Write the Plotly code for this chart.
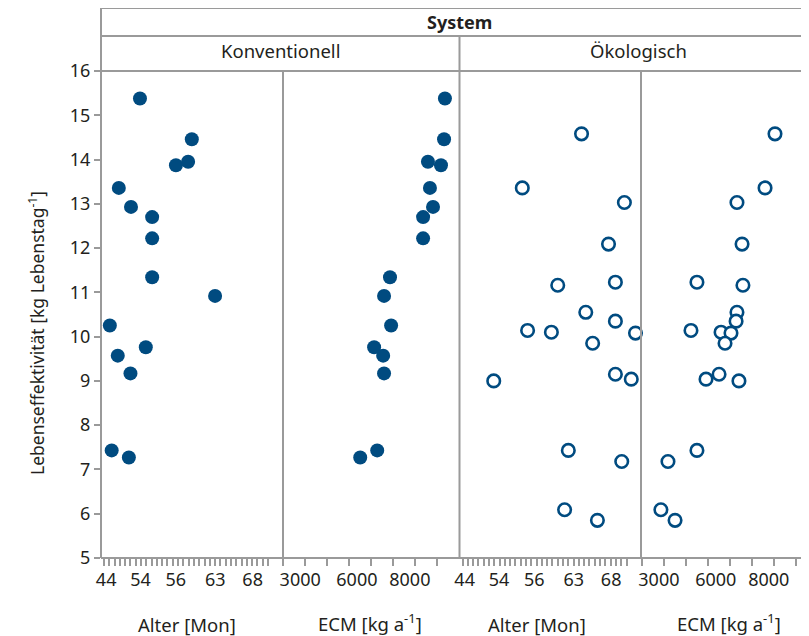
import plotly.graph_objects as go

# ---------------- data (positions) ----------------
# Alter axis is ordinal: positions are category slots (one minor tick per slot)
alter_tick_labels = ["44", "54", "56", "63", "68"]
alter_label_pos = [0.4, 6.9, 13.55, 21.05, 28.1]
alter_slots = list(range(32))

# ECM axis: positions in tick slots
ecm_tick_labels = ["3000", "6000", "8000"]
ecm_label_pos = [0.78, 3.35, 5.75]
ecm_slots = list(range(8))

y_ticks = list(range(5, 17))

# Konventionell
konv_eff = [15.38, 14.46, 13.95, 13.87, 13.36, 12.93, 12.70, 12.22,
            11.34, 10.92, 10.25, 9.76, 9.57, 9.17, 7.43, 7.27]
konv_alter = [6.8, 16.6, 15.9, 13.6, 2.8, 5.1, 9.1, 9.1,
              9.1, 21.0, 1.1, 7.9, 2.6, 5.0, 1.45, 4.7]
konv_ecm = [7.34, 7.30, 6.57, 7.16, 6.66, 6.80, 6.35, 6.35,
            4.85, 4.58, 4.90, 4.13, 4.54, 4.58, 4.27, 3.50]

# Ökologisch
oeko_eff = [14.58, 13.36, 13.03, 12.09, 11.23, 11.16, 10.55, 10.35, 10.14, 10.10,
            10.08, 9.85, 9.15, 9.04, 9.00, 7.43, 7.18, 6.09, 5.85]
oeko_alter = [22.5, 11.3, 30.6, 27.6, 28.9, 18.0, 23.3, 28.9, 12.3, 16.8,
              32.7, 24.6, 28.9, 31.9, 5.9, 20.0, 30.1, 19.3, 25.5]
oeko_ecm = [6.03, 5.58, 4.31, 4.54, 2.50, 4.58, 4.31, 4.27, 2.23, 3.59,
            4.04, 3.77, 3.50, 2.91, 4.40, 2.50, 1.19, 0.87, 1.51]

# ---------------- style ----------------
W, H = 809, 636
OFF = 8  # page offset of the figure inside the window
# plot-area edges in window pixels
WL, WT, WB = 101, 71, 558
WR = W + OFF  # right edge of the figure in window pixels
BLUE = "#004b80"
GREY = "#9a9a9a"
TXT = "#231f20"
FONT = "Noto Sans"
FS = 18
TS = 18.5

L, T, B, R = WL - OFF, WT - OFF, WB - OFF, W


def px(x):  # window x -> paper
    return (x - OFF - L) / (R - L)


def py(y):  # window y -> paper
    return (B - (y - OFF)) / (B - T)


fig = go.Figure()
filled = dict(size=14, color=BLUE, line=dict(width=0))
opened = dict(size=12.5, color="white", line=dict(width=2.6, color=BLUE))

fig.add_trace(go.Scatter(x=konv_alter, y=konv_eff, mode="markers", marker=filled,
                         xaxis="x", yaxis="y", showlegend=False, cliponaxis=False))
fig.add_trace(go.Scatter(x=konv_ecm, y=konv_eff, mode="markers", marker=filled,
                         xaxis="x2", yaxis="y", showlegend=False, cliponaxis=False))
fig.add_trace(go.Scatter(x=oeko_alter, y=oeko_eff, mode="markers", marker=opened,
                         xaxis="x3", yaxis="y", showlegend=False, cliponaxis=False))
fig.add_trace(go.Scatter(x=oeko_ecm, y=oeko_eff, mode="markers", marker=opened,
                         xaxis="x4", yaxis="y", showlegend=False, cliponaxis=False))

edges = [101, 283, 459.5, 641, WR]
doms = [[px(edges[i]), px(edges[i + 1])] for i in range(4)]


def alter_axis(dom, right):
    return dict(domain=dom, range=[-0.57, right], tickmode="array",
                tickvals=alter_label_pos, ticktext=alter_tick_labels, ticks="",
                minor=dict(tickmode="array", tickvals=alter_slots, ticks="outside",
                           ticklen=7, tickwidth=1.5, tickcolor=GREY, showgrid=False),
                showgrid=False, zeroline=False, showline=False, anchor="y",
                ticklabelstandoff=9, automargin=False,
                tickfont=dict(family=FONT, size=FS, color=TXT))


def ecm_axis(dom, left, right):
    return dict(domain=dom, range=[left, right], tickmode="array",
                tickvals=ecm_label_pos, ticktext=ecm_tick_labels, ticks="",
                minor=dict(tickmode="array", tickvals=ecm_slots, ticks="outside",
                           ticklen=7, tickwidth=1.5, tickcolor=GREY, showgrid=False),
                showgrid=False, zeroline=False, showline=False, anchor="y",
                ticklabelstandoff=9, automargin=False,
                tickfont=dict(family=FONT, size=FS, color=TXT))


line = dict(color=GREY, width=2)
shapes = []
for yy in [8, 36, 71, 558]:
    shapes.append(dict(type="line", xref="paper", yref="paper", x0=px(101), x1=px(WR),
                       y0=py(yy), y1=py(yy), line=line))
shapes.append(dict(type="line", xref="paper", yref="paper", x0=px(101), x1=px(101),
                   y0=py(8), y1=py(558), line=line))
shapes.append(dict(type="line", xref="paper", yref="paper", x0=px(459.5), x1=px(459.5),
                   y0=py(36), y1=py(558), line=line))
for xx in [283, 641]:
    shapes.append(dict(type="line", xref="paper", yref="paper", x0=px(xx), x1=px(xx),
                       y0=py(71), y1=py(558), line=line))


def note(text, x, y, size, angle=0):
    return dict(text=text, x=px(x), y=py(y), xref="paper", yref="paper",
                xanchor="center", yanchor="middle", textangle=angle,
                showarrow=False, font=dict(family=FONT, size=size, color=TXT))


ann = [
    note("<b>System</b>", 459.5, 22, 18),
    note("Konventionell", 280, 50, 18.5),
    note("Ökologisch", 638, 50, 18.5),
    note("Alter [Mon]", 186.5, 624, TS),
    note("ECM [kg a<sup>-1</sup>]", 370, 622, TS),
    note("Alter [Mon]", 537, 624, TS),
    note("ECM [kg a<sup>-1</sup>]", 729, 622, TS),
    note("Lebenseffektivität [kg Lebenstag<sup>-1</sup>]", 36, 333, 17.5, -90),
]

fig.update_layout(
    width=W, height=H,
    margin=dict(l=L, r=W - R, t=T, b=H - B, pad=0, autoexpand=False),
    paper_bgcolor="white", plot_bgcolor="white",
    xaxis=alter_axis(doms[0], 33.84),
    xaxis2=ecm_axis(doms[1], 0.0, 8.0),
    xaxis3=alter_axis(doms[2], 33.74),
    xaxis4=ecm_axis(doms[3], -0.03, 7.93),
    yaxis=dict(domain=[0, 1], range=[5, 16], tickmode="array", tickvals=y_ticks,
               ticks="outside", ticklen=6, tickwidth=2, tickcolor=GREY,
               showgrid=False, zeroline=False, showline=False, anchor="x",
               automargin=False,
               tickfont=dict(family=FONT, size=FS, color=TXT)),
    shapes=shapes, annotations=ann, showlegend=False,
)

fig.write_html("out.html")
